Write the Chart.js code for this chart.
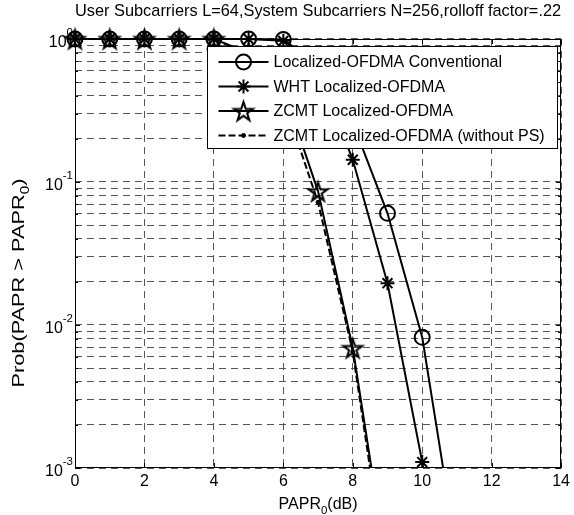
<!DOCTYPE html>
<html><head><meta charset="utf-8">
<script src="https://cdn.jsdelivr.net/npm/chart.js@4.4.0/dist/chart.umd.min.js"></script>
<style>html,body{margin:0;padding:0;background:#fff;overflow:hidden}</style>
</head><body>
<canvas id="c" width="574" height="515" style="width:574px;height:515px;display:block"></canvas>
<script>
// ---- data ----
const papr = [0,1,2,3,4,5,6,7,8,9,10,11];
const probConventional = [1,1,1,1,1,1,0.99,0.65,0.26,0.0604,0.0082,0.00025];
const probWHT = [1,1,1,1,1,1,0.97,0.6,0.143,0.0196,0.0011,0.00004];
const probZCMT = [1,1,1,1,1,0.8,0.45,0.086,0.0069,0.00019];
const probZCMTnoPS = [1,1,1,1,1,0.78,0.38,0.072,0.0065,0.00015];
const seriesLabels = ['Localized-OFDMA Conventional','WHT Localized-OFDMA','ZCMT Localized-OFDMA','ZCMT Localized-OFDMA (without PS)'];
const xTicks = [0,2,4,6,8,10,12,14];
const yDecades = [0.001,0.01,0.1,1];
const yExponents = ['-3','-2','-1','0'];
const titleText = 'User Subcarriers L=64,System Subcarriers N=256,rolloff factor=.22';
const xTitle = ['PAPR','0','(dB)'];
const yTitle = ['Prob(PAPR > PAPR','0',')'];

const FONT = "'Liberation Sans', Arial, sans-serif";

function makePentagram(r, lw){
  const s = Math.ceil(2*r + lw*2 + 2) + 1;
  const c = document.createElement('canvas'); c.width = s; c.height = s;
  const g = c.getContext('2d');
  g.translate(s/2, s/2 + r*0.1);
  g.beginPath();
  for (let k=0;k<10;k++){
    const rr = (k%2) ? r*0.382 : r;
    const a = -Math.PI/2 + k*Math.PI/5;
    g.lineTo(rr*Math.cos(a), rr*Math.sin(a));
  }
  g.closePath(); g.lineWidth = lw; g.strokeStyle = '#000'; g.lineJoin = 'miter'; g.stroke();
  return c;
}
const pentagram = makePentagram(10, 2);

function series(label, ys, extra){
  return Object.assign({
    label, data: ys.map((y,i)=>({x: papr[i], y})),
    borderColor:'#000', backgroundColor:'transparent', borderWidth:2,
    pointBorderColor:'#000', pointBackgroundColor:'transparent', pointBorderWidth:2,
    tension:0, clip:{left:14,top:14,right:14,bottom:0}
  }, extra);
}

const datasets = [
  series(seriesLabels[0], probConventional, {pointStyle:'circle', pointRadius:7.5}),
  series(seriesLabels[1], probWHT, {pointStyle:'star', pointRadius:7}),
  series(seriesLabels[2], probZCMT, {pointStyle:pentagram, pointRadius:9}),
  series(seriesLabels[3], probZCMTnoPS, {pointStyle:'circle', pointRadius:2, pointBorderWidth:1, pointBackgroundColor:'#000', borderDash:[7,3]})
];

const matlabPlugin = {
  id:'matlab',
  beforeDatasetsDraw(chart){
    const {ctx, chartArea:ca, scales:{x, y}} = chart;
    ctx.save();
    ctx.strokeStyle = '#000'; ctx.lineWidth = 1;
    ctx.beginPath();
    xTicks.forEach(v=>{
      const px = Math.round(x.getPixelForValue(v)) + 0.5;
      ctx.moveTo(px, ca.bottom); ctx.lineTo(px, ca.bottom-5);
      ctx.moveTo(px, ca.top); ctx.lineTo(px, ca.top+5);
    });
    y.ticks.forEach(t=>{
      const py = Math.round(y.getPixelForValue(t.value)) + 0.5;
      const len = t.major ? 5 : 3;
      ctx.moveTo(ca.left, py); ctx.lineTo(ca.left+len, py);
      ctx.moveTo(ca.right, py); ctx.lineTo(ca.right-len, py);
    });
    ctx.stroke();
    ctx.strokeRect(Math.round(ca.left)+0.5, Math.round(ca.top)+0.5, Math.round(ca.right-ca.left)-1, Math.round(ca.bottom-ca.top)-1);
    ctx.restore();
  },
  afterDatasetsDraw(chart){
    const {ctx, chartArea:ca} = chart;
    ctx.save();
    const lx = 207.5, ly = ca.top + 7.5, lw = 350, lh = 102;
    ctx.fillStyle = '#fff'; ctx.fillRect(lx, ly, lw, lh);
    ctx.strokeStyle = '#000'; ctx.lineWidth = 1; ctx.strokeRect(lx, ly, lw, lh);
    ctx.font = '16px ' + FONT; ctx.textBaseline = 'middle'; ctx.textAlign = 'left'; ctx.fillStyle = '#000';
    chart.data.datasets.forEach((d,i)=>{
      const yy = ly + 15.5 + i*24.5;
      ctx.save();
      ctx.lineWidth = 2; ctx.strokeStyle = '#000';
      ctx.setLineDash(d.borderDash || []);
      ctx.beginPath(); ctx.moveTo(lx+11, yy); ctx.lineTo(lx+61, yy); ctx.stroke();
      ctx.setLineDash([]);
      ctx.fillStyle = d.pointBackgroundColor; ctx.strokeStyle = '#000'; ctx.lineWidth = d.pointBorderWidth;
      Chart.helpers.drawPoint(ctx, {pointStyle:d.pointStyle, radius:d.pointRadius, borderWidth:d.pointBorderWidth, rotation:0}, lx+36, yy);
      ctx.restore();
      ctx.fillText(d.label, lx+66, yy+1);
    });
    ctx.restore();
  },
  afterDraw(chart){
    const {ctx, chartArea:ca, scales:{y}} = chart;
    ctx.save(); ctx.fillStyle = '#000';
    const big = '16px ' + FONT, small = '11.5px ' + FONT;
    yDecades.forEach((v,i)=>{
      const py = y.getPixelForValue(v);
      ctx.font = small;
      const sw = ctx.measureText(yExponents[i]).width;
      ctx.font = big;
      const bw = ctx.measureText('10').width;
      const right = ca.left - 2;
      ctx.textAlign = 'left'; ctx.textBaseline = 'alphabetic';
      ctx.fillText('10', right - sw - bw, py + 8);
      ctx.font = small;
      ctx.fillText(yExponents[i], right - sw, py - 3);
    });
    ctx.font = big; const w0 = ctx.measureText(xTitle[0]).width, w2 = ctx.measureText(xTitle[2]).width;
    ctx.font = small; const w1 = ctx.measureText(xTitle[1]).width;
    const sx = (ca.left + ca.right)/2 - (w0+w1+w2)/2;
    const by = 509;
    ctx.textAlign = 'left'; ctx.textBaseline = 'alphabetic';
    ctx.font = big; ctx.fillText(xTitle[0], sx, by);
    ctx.font = small; ctx.fillText(xTitle[1], sx + w0, by + 5);
    ctx.font = big; ctx.fillText(xTitle[2], sx + w0 + w1, by);
    // y axis title (rotated, elongated like the reference)
    const ybig = '17px ' + FONT, ysmall = '12px ' + FONT;
    ctx.font = ybig; const v0 = ctx.measureText(yTitle[0]).width, v2 = ctx.measureText(yTitle[2]).width;
    ctx.font = ysmall; const v1 = ctx.measureText(yTitle[1]).width;
    ctx.translate(24, 283);
    ctx.rotate(-Math.PI/2);
    ctx.scale(1.28, 1);
    const tx = -(v0+v1+v2)/2;
    ctx.font = ybig; ctx.fillText(yTitle[0], tx, 0);
    ctx.font = ysmall; ctx.fillText(yTitle[1], tx + v0, 5);
    ctx.font = ybig; ctx.fillText(yTitle[2], tx + v0 + v1, 0);
    ctx.restore();
  }
};

new Chart(document.getElementById('c'), {
  type:'line',
  data:{datasets},
  options:{
    responsive:false, animation:false, devicePixelRatio:1,
    layout:{padding:{left:0, right:9, top:0, bottom:0}},
    plugins:{
      legend:{display:false}, tooltip:{enabled:false},
      title:{display:true, fullSize:false, text:titleText, color:'#000', font:{family:FONT, size:16.4, weight:'normal', lineHeight:1.2}, padding:{top:2, bottom:17.3}}
    },
    scales:{
      x:{type:'linear', min:0, max:14,
        afterBuildTicks:s=>{ s.ticks = xTicks.map(v=>({value:v})); },
        afterFit:s=>{ s.height = 47; },
        grid:{color:'#555', lineWidth:1, drawTicks:false},
        border:{display:false, dash:[7,5]},
        ticks:{color:'#000', font:{family:FONT, size:16}, padding:4, maxRotation:0, autoSkip:false}
      },
      y:{type:'logarithmic', min:0.001, max:1,
        afterBuildTicks:s=>{
          const t = [];
          yDecades.forEach(d=>{ for (let k=1;k<=9;k++){ const v = d*k; if (v <= 1.0000001) t.push({value:v, major:k===1}); } });
          s.ticks = t;
        },
        afterFit:s=>{ s.width = 75; },
        grid:{color:'#555', lineWidth:1, drawTicks:false},
        border:{display:false, dash:[7,5]},
        ticks:{display:false}
      }
    }
  },
  plugins:[matlabPlugin]
});
</script>
</body></html>
